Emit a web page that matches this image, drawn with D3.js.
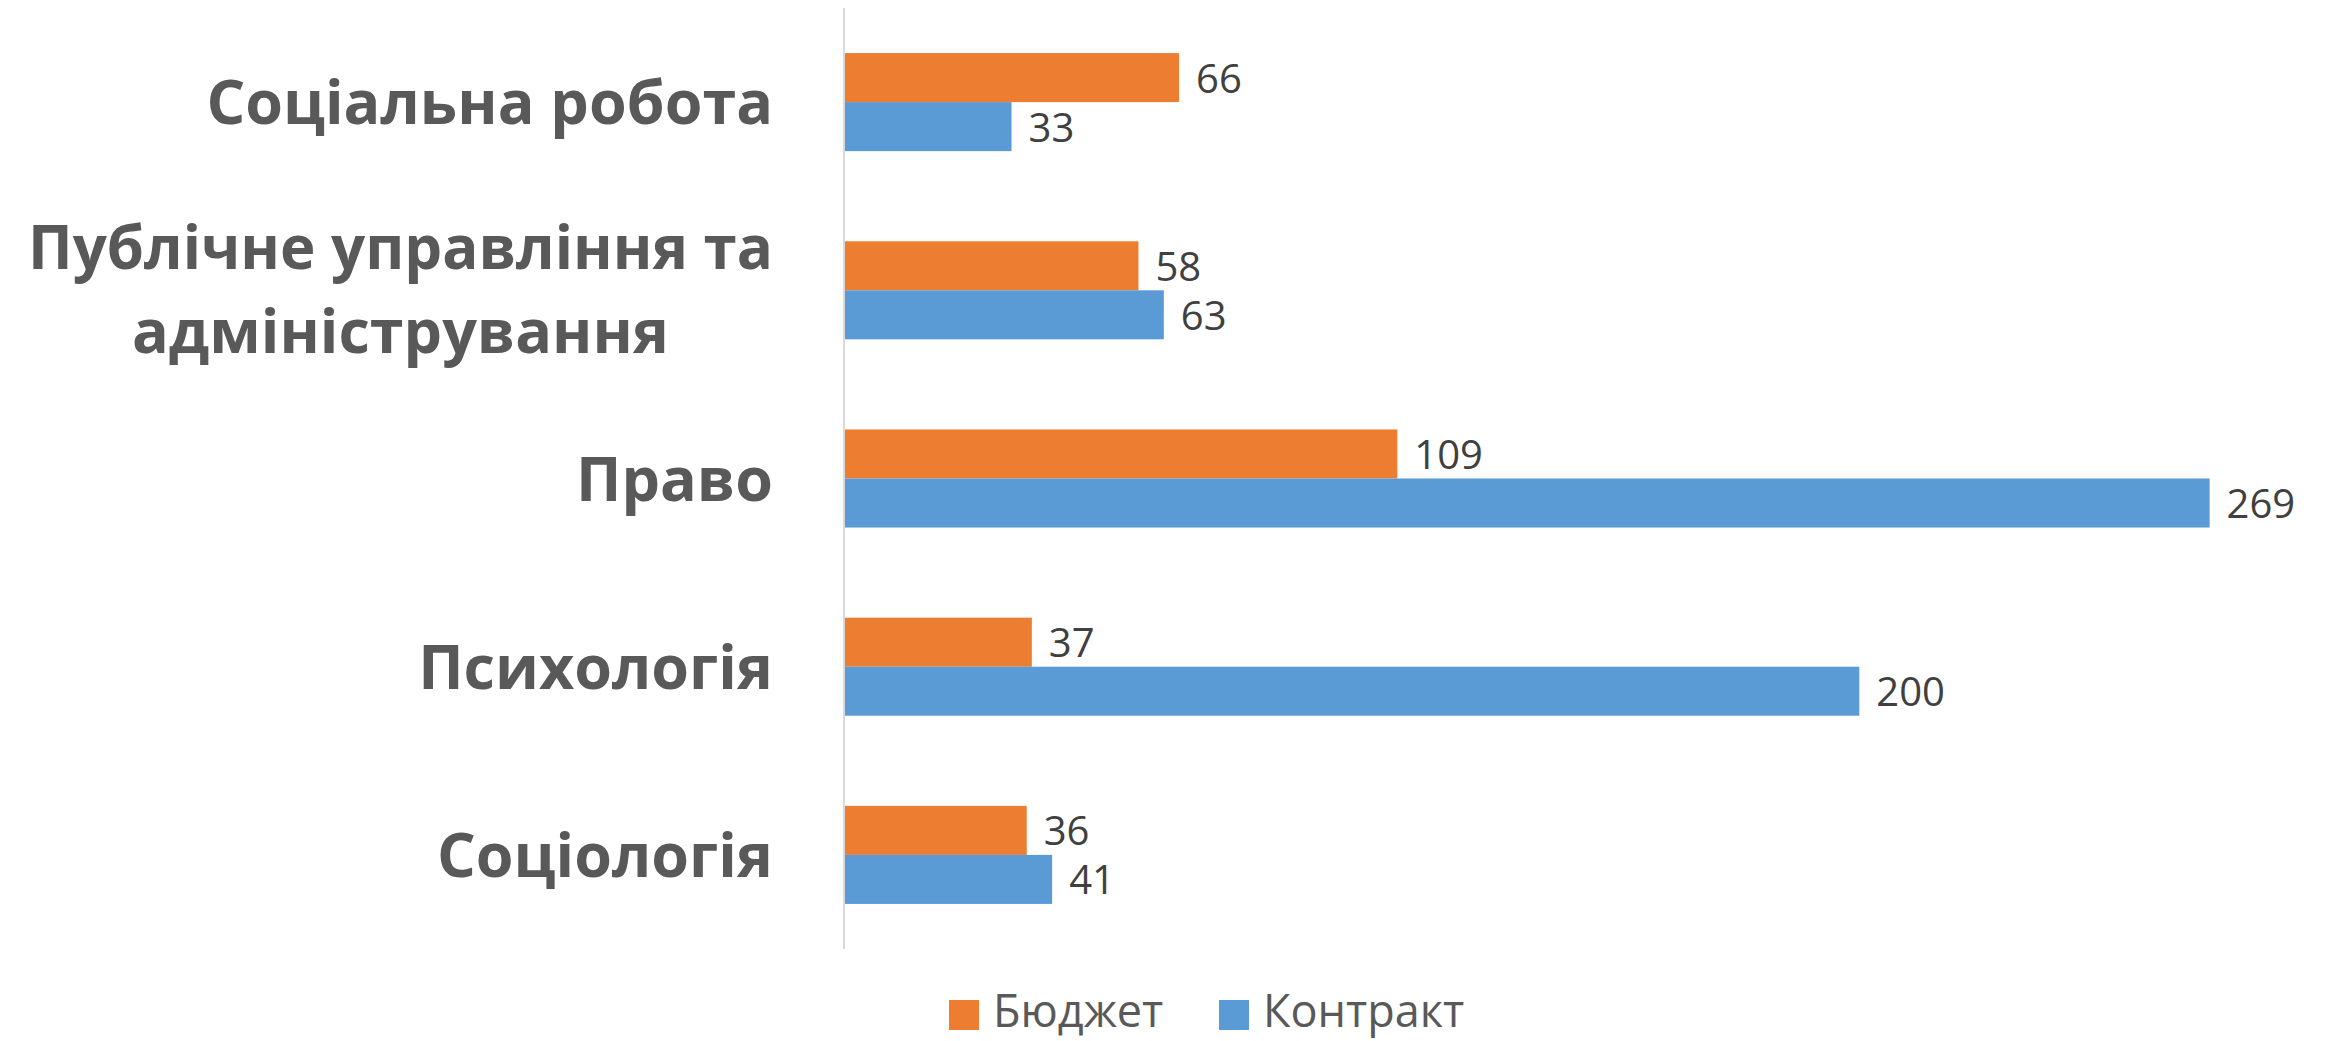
<!DOCTYPE html>
<html>
<head>
<meta charset="utf-8">
<script src="https://cdn.jsdelivr.net/npm/d3@7"></script>
<style>
  html, body { margin: 0; padding: 0; background: #ffffff; }
  svg { display: block; }
</style>
</head>
<body>
<svg id="chart" width="2326" height="1041"></svg>
<script>
const categories = ["Соціальна робота", "Публічне управління та адміністрування", "Право", "Психологія", "Соціологія"];
const labelLines = [["Соціальна робота"], ["Публічне управління та", "адміністрування"], ["Право"], ["Психологія"], ["Соціологія"]];
const seriesNames = ["Бюджет", "Контракт"];
const budget = [66, 58, 109, 37, 36];
const contract = [33, 63, 269, 200, 41];

const colors = {"Бюджет": "#ED7D31", "Контракт": "#5B9BD5"};
const svg = d3.select("#chart");

const x = d3.scaleLinear().domain([0, 300]).range([844, 2367]);
const y = d3.scaleBand().domain(categories).range([8, 949]).paddingInner(0.479).paddingOuter(0.2395);
const ySub = d3.scaleBand().domain(seriesNames).range([0, y.bandwidth()]);

const rows = categories.map((c, i) => ({cat: c, lines: labelLines[i], values: [
  {s: "Бюджет", v: budget[i]}, {s: "Контракт", v: contract[i]}
]}));

// axis line
svg.append("line")
  .attr("x1", x(0)).attr("x2", x(0))
  .attr("y1", 8).attr("y2", 949)
  .attr("stroke", "#d9d9d9").attr("stroke-width", 2);

const g = svg.selectAll("g.cat").data(rows).join("g")
  .attr("class", "cat")
  .attr("transform", d => `translate(0,${y(d.cat)})`);

g.selectAll("rect").data(d => d.values).join("rect")
  .attr("x", x(0) + 1)
  .attr("y", d => ySub(d.s))
  .attr("width", d => x(d.v) - x(0) - 1)
  .attr("height", ySub.bandwidth())
  .attr("fill", d => colors[d.s]);

g.selectAll("text.val").data(d => d.values).join("text")
  .attr("class", "val")
  .attr("x", d => x(d.v) + 17)
  .attr("y", d => ySub(d.s) + ySub.bandwidth() / 2 + 15)
  .attr("font-family", "'Open Sans', sans-serif")
  .attr("font-size", 40)
  .attr("fill", "#404040")
  .text(d => d.v);

// category labels
const labelRight = 773;
const maxLabelWidth = 745;
function catText(xp, yp, anchor, str) {
  const t = svg.append("text")
    .attr("x", xp).attr("y", yp)
    .attr("text-anchor", anchor)
    .attr("font-family", "'Open Sans', sans-serif")
    .attr("font-weight", "bold")
    .attr("font-size", 61)
    .attr("fill", "#595959")
    .text(str);
  return t;
}
rows.forEach(d => {
  const cy = y(d.cat) + y.bandwidth() / 2;
  if (d.lines.length === 1) {
    catText(labelRight, cy + 22, "end", d.lines[0]);
  } else {
    const t1 = catText(labelRight, cy - 21, "end", d.lines[0]);
    let w1 = t1.node().getComputedTextLength();
    if (w1 > maxLabelWidth) {
      t1.attr("textLength", maxLabelWidth).attr("lengthAdjust", "spacingAndGlyphs");
      w1 = maxLabelWidth;
    }
    catText(labelRight - w1 / 2, cy + 63, "middle", d.lines[1]);
  }
});

// legend
const legendX = [949, 1219];
const lg = svg.selectAll("g.leg").data(seriesNames).join("g")
  .attr("class", "leg")
  .attr("transform", (d, i) => `translate(${legendX[i]},1000)`);
lg.append("rect").attr("width", 30).attr("height", 30).attr("fill", d => colors[d]);
lg.append("text")
  .attr("x", 44).attr("y", 27)
  .attr("font-family", "'Open Sans', sans-serif")
  .attr("font-size", 45)
  .attr("fill", "#595959")
  .text(d => d);
</script>
</body>
</html>
